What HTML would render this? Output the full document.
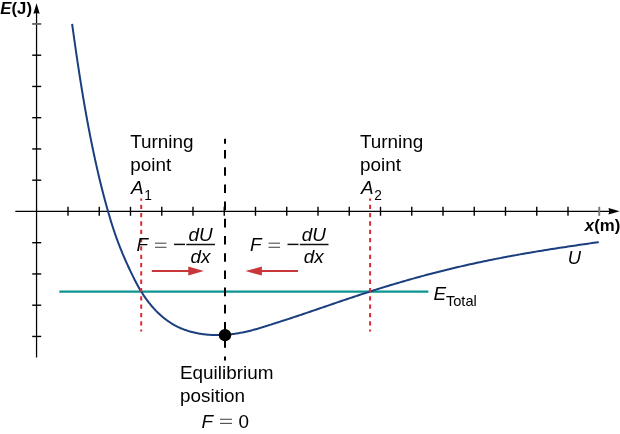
<!DOCTYPE html>
<html><head><meta charset="utf-8"><style>
html,body{margin:0;padding:0;background:#fff;}
svg{display:block;}
text{font-family:"Liberation Sans",sans-serif;fill:#000;}
svg{will-change:transform;}
.it{font-style:italic;}
.b{font-weight:bold;}
</style></head><body>
<svg width="620" height="434" viewBox="0 0 620 434">
<rect width="620" height="434" fill="#fff"/>
<!-- axes -->
<g stroke="#000" fill="none">
<line x1="36.55" y1="10" x2="36.55" y2="357.5" stroke-width="1.25"/>
<line x1="15.3" y1="211.3" x2="612" y2="211.3" stroke-width="1.3"/>
</g>
<g stroke-width="1.4" fill="none"><line x1="68.00" y1="206.8" x2="68.00" y2="215.8" stroke="#000" stroke-width="1.4"/><line x1="99.25" y1="206.8" x2="99.25" y2="215.8" stroke="#000" stroke-width="1.4"/><line x1="130.50" y1="206.8" x2="130.50" y2="215.8" stroke="#000" stroke-width="1.4"/><line x1="161.75" y1="206.8" x2="161.75" y2="215.8" stroke="#000" stroke-width="1.4"/><line x1="193.00" y1="206.8" x2="193.00" y2="215.8" stroke="#000" stroke-width="1.4"/><line x1="224.25" y1="206.8" x2="224.25" y2="215.8" stroke="#000" stroke-width="1.4"/><line x1="255.50" y1="206.8" x2="255.50" y2="215.8" stroke="#000" stroke-width="1.4"/><line x1="286.75" y1="206.8" x2="286.75" y2="215.8" stroke="#000" stroke-width="1.4"/><line x1="318.00" y1="206.8" x2="318.00" y2="215.8" stroke="#000" stroke-width="1.4"/><line x1="349.25" y1="206.8" x2="349.25" y2="215.8" stroke="#000" stroke-width="1.4"/><line x1="380.50" y1="206.8" x2="380.50" y2="215.8" stroke="#000" stroke-width="1.4"/><line x1="411.75" y1="206.8" x2="411.75" y2="215.8" stroke="#000" stroke-width="1.4"/><line x1="443.00" y1="206.8" x2="443.00" y2="215.8" stroke="#000" stroke-width="1.4"/><line x1="474.25" y1="206.8" x2="474.25" y2="215.8" stroke="#000" stroke-width="1.4"/><line x1="505.50" y1="206.8" x2="505.50" y2="215.8" stroke="#000" stroke-width="1.4"/><line x1="536.75" y1="206.8" x2="536.75" y2="215.8" stroke="#000" stroke-width="1.4"/><line x1="568.00" y1="206.8" x2="568.00" y2="215.8" stroke="#000" stroke-width="1.4"/><line x1="599.25" y1="206.8" x2="599.25" y2="215.8" stroke="#777" stroke-width="1.9"/><line x1="32.2" y1="23.95" x2="41.2" y2="23.95" stroke="#666" stroke-width="1.9"/><line x1="32.2" y1="55.20" x2="41.2" y2="55.20" stroke="#000" stroke-width="1.4"/><line x1="32.2" y1="86.45" x2="41.2" y2="86.45" stroke="#000" stroke-width="1.4"/><line x1="32.2" y1="117.70" x2="41.2" y2="117.70" stroke="#000" stroke-width="1.4"/><line x1="32.2" y1="148.95" x2="41.2" y2="148.95" stroke="#000" stroke-width="1.4"/><line x1="32.2" y1="180.20" x2="41.2" y2="180.20" stroke="#000" stroke-width="1.4"/><line x1="32.2" y1="242.70" x2="41.2" y2="242.70" stroke="#000" stroke-width="1.4"/><line x1="32.2" y1="273.95" x2="41.2" y2="273.95" stroke="#000" stroke-width="1.4"/><line x1="32.2" y1="305.20" x2="41.2" y2="305.20" stroke="#000" stroke-width="1.4"/><line x1="32.2" y1="336.45" x2="41.2" y2="336.45" stroke="#000" stroke-width="1.4"/></g>
<path d="M36.55 3.2 L39.7 13.8 L36.55 13.1 L33.4 13.8 Z" fill="#000"/>
<path d="M619.7 211.25 L608.5 208.1 L609.2 211.25 L608.5 214.4 Z" fill="#000"/>
<!-- teal line -->
<line x1="59.3" y1="291.6" x2="428.4" y2="291.6" stroke="#0b9492" stroke-width="2.3"/>
<!-- black dashed -->
<line x1="225" y1="138.8" x2="225" y2="143.7" stroke="#000" stroke-width="2"/>
<line x1="225" y1="150" x2="225" y2="360.6" stroke="#000" stroke-width="2" stroke-dasharray="8.6 8.6"/>
<!-- curve -->
<path d="M72.12 23.89 L72.28 25.01 L72.43 26.14 L72.59 27.26 L72.74 28.38 L72.89 29.50 L73.05 30.62 L73.20 31.74 L73.36 32.86 L73.52 33.98 L73.67 35.10 L73.83 36.22 L73.99 37.34 L74.14 38.46 L74.30 39.58 L74.46 40.70 L74.62 41.82 L74.78 42.93 L74.94 44.05 L75.10 45.17 L75.26 46.29 L75.42 47.41 L75.58 48.53 L75.74 49.65 L75.90 50.77 L76.07 51.89 L76.23 53.01 L76.39 54.13 L76.56 55.25 L76.72 56.36 L76.89 57.48 L77.05 58.60 L77.22 59.72 L77.39 60.84 L77.55 61.96 L77.72 63.07 L77.89 64.19 L78.06 65.31 L78.23 66.43 L78.40 67.55 L78.57 68.66 L78.74 69.78 L78.91 70.90 L79.08 72.02 L79.26 73.13 L79.43 74.25 L79.60 75.37 L79.78 76.48 L79.95 77.60 L80.13 78.72 L80.31 79.83 L80.48 80.95 L80.66 82.07 L80.84 83.18 L81.02 84.30 L81.20 85.41 L81.38 86.53 L81.56 87.65 L81.74 88.76 L81.92 89.88 L82.11 90.99 L82.29 92.11 L82.48 93.22 L82.66 94.34 L82.85 95.45 L83.04 96.57 L83.22 97.68 L83.41 98.80 L83.60 99.91 L83.79 101.03 L83.98 102.14 L84.17 103.25 L84.37 104.37 L84.56 105.48 L84.75 106.59 L84.95 107.71 L85.14 108.82 L85.34 109.93 L85.54 111.05 L85.73 112.16 L85.93 113.27 L86.13 114.38 L86.33 115.50 L86.54 116.61 L86.74 117.72 L86.94 118.83 L87.15 119.94 L87.35 121.06 L87.56 122.17 L87.76 123.28 L87.97 124.39 L88.18 125.50 L88.39 126.61 L88.60 127.72 L88.81 128.83 L89.02 129.94 L89.24 131.05 L89.45 132.16 L89.67 133.27 L89.88 134.38 L90.10 135.49 L90.32 136.60 L90.54 137.71 L90.76 138.82 L90.98 139.93 L91.20 141.04 L91.43 142.14 L91.65 143.25 L91.88 144.36 L92.10 145.47 L92.33 146.57 L92.56 147.68 L92.79 148.79 L93.02 149.90 L93.25 151.00 L93.48 152.11 L93.72 153.22 L93.95 154.32 L94.19 155.43 L94.43 156.53 L94.67 157.64 L94.91 158.74 L95.15 159.85 L95.39 160.95 L95.63 162.06 L95.88 163.16 L96.12 164.27 L96.37 165.37 L96.62 166.47 L96.87 167.58 L97.12 168.68 L97.37 169.78 L97.63 170.88 L97.88 171.98 L98.14 173.09 L98.40 174.19 L98.65 175.29 L98.92 176.39 L99.18 177.49 L99.44 178.59 L99.70 179.69 L99.97 180.79 L100.24 181.89 L100.51 182.99 L100.78 184.08 L101.05 185.18 L101.32 186.28 L101.60 187.38 L101.87 188.47 L102.15 189.57 L102.43 190.67 L102.71 191.76 L102.99 192.86 L103.28 193.95 L103.56 195.05 L103.85 196.14 L104.14 197.23 L104.43 198.33 L104.72 199.42 L105.02 200.51 L105.31 201.60 L105.61 202.69 L105.91 203.79 L106.21 204.88 L106.51 205.97 L106.81 207.06 L107.12 208.15 L107.43 209.23 L107.73 210.32 L108.04 211.41 L108.36 212.50 L108.67 213.58 L108.99 214.67 L109.31 215.76 L109.63 216.84 L109.95 217.92 L110.27 219.01 L110.60 220.09 L110.93 221.17 L111.26 222.25 L111.60 223.33 L111.94 224.41 L112.28 225.49 L112.62 226.57 L112.97 227.64 L113.32 228.72 L113.67 229.79 L114.03 230.86 L114.39 231.93 L114.75 233.00 L115.12 234.07 L115.49 235.14 L115.86 236.20 L116.24 237.27 L116.62 238.33 L117.01 239.39 L117.39 240.45 L117.79 241.51 L118.18 242.56 L118.58 243.62 L118.99 244.67 L119.40 245.72 L119.81 246.77 L120.22 247.82 L120.64 248.87 L121.06 249.91 L121.49 250.96 L121.92 252.00 L122.35 253.04 L122.78 254.08 L123.22 255.12 L123.66 256.16 L124.11 257.20 L124.56 258.23 L125.01 259.27 L125.46 260.30 L125.92 261.33 L126.38 262.36 L126.84 263.39 L127.31 264.42 L127.78 265.45 L128.25 266.47 L128.72 267.50 L129.20 268.52 L129.68 269.54 L130.17 270.56 L130.65 271.58 L131.14 272.60 L131.63 273.62 L132.13 274.63 L132.62 275.65 L133.12 276.66 L133.62 277.67 L134.13 278.69 L134.64 279.69 L135.16 280.70 L135.68 281.71 L136.21 282.71 L136.74 283.71 L137.28 284.70 L137.82 285.70 L138.38 286.69 L138.94 287.67 L139.50 288.66 L140.08 289.64 L140.67 290.61 L141.26 291.59 L141.86 292.55 L142.47 293.52 L143.09 294.48 L143.72 295.43 L144.36 296.38 L145.01 297.32 L145.67 298.26 L146.34 299.19 L147.01 300.11 L147.70 301.03 L148.39 301.93 L149.09 302.84 L149.81 303.73 L150.53 304.62 L151.26 305.50 L151.99 306.37 L152.74 307.23 L153.50 308.08 L154.26 308.92 L155.04 309.75 L155.82 310.58 L156.62 311.39 L157.42 312.19 L158.23 312.98 L159.05 313.76 L159.87 314.53 L160.71 315.29 L161.56 316.04 L162.41 316.77 L163.28 317.49 L164.15 318.20 L165.03 318.89 L165.92 319.57 L166.82 320.24 L167.73 320.90 L168.64 321.54 L169.57 322.16 L170.50 322.77 L171.44 323.37 L172.39 323.95 L173.35 324.52 L174.32 325.07 L175.30 325.60 L176.29 326.12 L177.28 326.62 L178.28 327.10 L179.29 327.57 L180.31 328.03 L181.33 328.46 L182.37 328.89 L183.41 329.29 L184.45 329.69 L185.50 330.06 L186.56 330.43 L187.63 330.78 L188.70 331.11 L189.78 331.43 L190.86 331.73 L191.95 332.02 L193.04 332.30 L194.13 332.56 L195.24 332.81 L196.34 333.04 L197.45 333.26 L198.57 333.47 L199.68 333.66 L200.80 333.84 L201.93 334.01 L203.06 334.17 L204.19 334.31 L205.32 334.44 L206.45 334.55 L207.59 334.66 L208.73 334.75 L209.87 334.83 L211.01 334.90 L212.15 334.95 L213.30 335.00 L214.44 335.03 L215.59 335.05 L216.73 335.06 L217.88 335.06 L219.03 335.04 L220.17 335.02 L221.32 334.98 L222.46 334.94 L223.60 334.88 L224.74 334.81 L225.88 334.74 L227.02 334.65 L228.16 334.55 L229.29 334.44 L230.43 334.32 L231.56 334.20 L232.68 334.06 L233.81 333.91 L234.93 333.76 L236.05 333.59 L237.16 333.42 L238.28 333.24 L239.39 333.04 L240.50 332.84 L241.60 332.64 L242.71 332.42 L243.81 332.20 L244.91 331.97 L246.01 331.73 L247.10 331.49 L248.20 331.23 L249.29 330.97 L250.38 330.70 L251.47 330.42 L252.56 330.13 L253.64 329.84 L254.73 329.54 L255.81 329.23 L256.89 328.92 L257.97 328.60 L259.05 328.28 L260.13 327.95 L261.21 327.62 L262.29 327.29 L263.36 326.96 L264.44 326.62 L265.51 326.28 L266.59 325.94 L267.66 325.60 L268.73 325.26 L269.81 324.92 L270.88 324.58 L271.95 324.24 L273.02 323.90 L274.09 323.56 L275.17 323.22 L276.24 322.87 L277.31 322.53 L278.38 322.19 L279.46 321.85 L280.53 321.51 L281.60 321.17 L282.68 320.82 L283.75 320.48 L284.83 320.13 L286.00 319.75 L288.00 319.10 L290.00 318.45 L292.00 317.79 L294.00 317.12 L296.00 316.46 L298.00 315.79 L300.00 315.12 L302.00 314.45 L304.00 313.77 L306.00 313.10 L308.00 312.42 L310.00 311.74 L312.00 311.05 L314.00 310.37 L316.00 309.69 L318.00 309.00 L320.00 308.32 L322.00 307.63 L324.00 306.95 L326.00 306.26 L328.00 305.58 L330.00 304.90 L332.00 304.21 L334.00 303.53 L336.00 302.85 L338.00 302.17 L340.00 301.49 L342.00 300.81 L344.00 300.14 L346.00 299.46 L348.00 298.79 L350.00 298.12 L352.00 297.45 L354.00 296.79 L356.00 296.12 L358.00 295.46 L360.00 294.81 L362.00 294.15 L364.00 293.50 L366.00 292.85 L368.00 292.20 L370.00 291.56 L372.00 290.92 L374.00 290.28 L376.00 289.65 L378.00 289.02 L380.00 288.40 L382.00 287.77 L384.00 287.16 L386.00 286.54 L388.00 285.93 L390.00 285.32 L392.00 284.72 L394.00 284.12 L396.00 283.53 L398.00 282.93 L400.00 282.35 L402.00 281.76 L404.00 281.18 L406.00 280.61 L408.00 280.04 L410.00 279.47 L412.00 278.91 L414.00 278.35 L416.00 277.79 L418.00 277.24 L420.00 276.69 L422.00 276.15 L424.00 275.61 L426.00 275.08 L428.00 274.55 L430.00 274.02 L432.00 273.50 L434.00 272.98 L436.00 272.46 L438.00 271.95 L440.00 271.45 L442.00 270.95 L444.00 270.45 L446.00 269.95 L448.00 269.47 L450.00 268.98 L452.00 268.50 L454.00 268.02 L456.00 267.55 L458.00 267.08 L460.00 266.61 L462.00 266.15 L464.00 265.69 L466.00 265.24 L468.00 264.79 L470.00 264.34 L472.00 263.90 L474.00 263.46 L476.00 263.03 L478.00 262.60 L480.00 262.17 L482.00 261.75 L484.00 261.33 L486.00 260.92 L488.00 260.50 L490.00 260.10 L492.00 259.69 L494.00 259.29 L496.00 258.89 L498.00 258.50 L500.00 258.11 L502.00 257.72 L504.00 257.34 L506.00 256.96 L508.00 256.58 L510.00 256.21 L512.00 255.84 L514.00 255.47 L516.00 255.11 L518.00 254.75 L520.00 254.39 L522.00 254.04 L524.00 253.68 L526.00 253.34 L528.00 252.99 L530.00 252.65 L532.00 252.31 L534.00 251.97 L536.00 251.63 L538.00 251.30 L540.00 250.97 L542.00 250.65 L544.00 250.32 L546.00 250.00 L548.00 249.68 L550.00 249.36 L552.00 249.05 L554.00 248.73 L556.00 248.42 L558.00 248.11 L560.00 247.80 L562.00 247.50 L564.00 247.20 L566.00 246.89 L568.00 246.59 L570.00 246.29 L572.00 246.00 L574.00 245.70 L576.00 245.41 L578.00 245.11 L580.00 244.82 L582.00 244.53 L584.00 244.24 L586.00 243.95 L588.00 243.66 L590.00 243.38 L592.00 243.09 L594.00 242.81 L596.00 242.52 L598.00 242.24 L598.80 242.12" fill="none" stroke="#1b3f7e" stroke-width="2" stroke-linecap="butt" stroke-linejoin="round"/>
<!-- red dashed -->
<g stroke="#d42f37" stroke-width="2" stroke-dasharray="4.3 4.02" fill="none">
<line x1="141.2" y1="198.4" x2="141.2" y2="331.5" stroke-dashoffset="2.0"/>
<line x1="370.1" y1="198.4" x2="370.1" y2="331.5" stroke-dashoffset="2.0"/>
</g>
<circle cx="225" cy="335.2" r="6.2" fill="#000"/>
<!-- arrows -->
<g stroke="#c9373b" stroke-width="2" fill="#c9373b">
<line x1="151.8" y1="271.1" x2="190" y2="271.1"/>
<path d="M203.8 271.1 L188.3 266.6 L188.3 275.6 Z" stroke="none"/>
<line x1="298" y1="271.1" x2="260" y2="271.1"/>
<path d="M245.4 271.1 L261.9 266.6 L261.9 275.6 Z" stroke="none"/>
</g>
<!-- axis labels -->
<text transform="translate(0.30 13.60) scale(1.050 1)" font-size="16" class="b"><tspan class="it">E</tspan>(J)</text>
<text transform="translate(584.80 231.00) scale(1.050 1)" font-size="16" class="b"><tspan class="it">x</tspan>(m)</text>
<text transform="translate(567.80 264.40) scale(1.050 1)" font-size="17.5" class="it">U</text>
<text transform="translate(130.20 148.00) scale(1.050 1)" font-size="18" class="">Turning</text>
<text transform="translate(130.20 170.80) scale(1.050 1)" font-size="18" class="">point</text>
<text transform="translate(131.00 194.00) scale(1.050 1)" font-size="18" class="it">A</text>
<text transform="translate(144.30 199.60) scale(0.980 1)" font-size="14" class="">1</text>
<text transform="translate(360.00 148.00) scale(1.050 1)" font-size="18" class="">Turning</text>
<text transform="translate(360.00 170.80) scale(1.050 1)" font-size="18" class="">point</text>
<text transform="translate(361.10 194.00) scale(1.050 1)" font-size="18" class="it">A</text>
<text transform="translate(374.20 199.60) scale(0.980 1)" font-size="14" class="">2</text>
<text transform="translate(180.00 379.30) scale(1.050 1)" font-size="18" class="">Equilibrium</text>
<text transform="translate(180.00 402.00) scale(1.050 1)" font-size="18" class="">position</text>
<text transform="translate(201.60 427.50) scale(1.050 1)" font-size="18" class="it">F</text>
<text transform="translate(238.60 427.50) scale(1.050 1)" font-size="18" class="">0</text>
<text transform="translate(433.60 299.70) scale(1.050 1)" font-size="18" class="it">E</text>
<text transform="translate(445.90 305.70) scale(1.045 1)" font-size="14" class="">Total</text>
<g stroke="#555" stroke-width="1.15" fill="none">
<line x1="220" y1="419.3" x2="232" y2="419.3"/><line x1="220" y1="423.4" x2="232" y2="423.4"/>
</g>
<g transform="translate(0 0)">
<text transform="translate(136.50 251.40) scale(1.050 1)" font-size="18" class="it">F</text>
<g stroke="#555" stroke-width="1.15" fill="none">
<line x1="155" y1="243.2" x2="166.5" y2="243.2"/><line x1="155" y1="247.3" x2="166.5" y2="247.3"/>
</g>
<line x1="174" y1="244.4" x2="185" y2="244.4" stroke="#111" stroke-width="1.5"/>
<line x1="186.3" y1="244.5" x2="215" y2="244.5" stroke="#111" stroke-width="1.5"/>
<text transform="translate(188.60 241.20) scale(1.050 1)" font-size="18" class="it">dU</text>
<text transform="translate(190.60 263.00) scale(1.050 1)" font-size="18" class="it">dx</text>
</g>
<g transform="translate(113.5 0)">
<text transform="translate(136.50 251.40) scale(1.050 1)" font-size="18" class="it">F</text>
<g stroke="#555" stroke-width="1.15" fill="none">
<line x1="155" y1="243.2" x2="166.5" y2="243.2"/><line x1="155" y1="247.3" x2="166.5" y2="247.3"/>
</g>
<line x1="174" y1="244.4" x2="185" y2="244.4" stroke="#111" stroke-width="1.5"/>
<line x1="186.3" y1="244.5" x2="215" y2="244.5" stroke="#111" stroke-width="1.5"/>
<text transform="translate(188.30 241.20) scale(1.050 1)" font-size="18" class="it">dU</text>
<text transform="translate(190.30 263.00) scale(1.050 1)" font-size="18" class="it">dx</text>
</g>
</svg>
</body></html>
